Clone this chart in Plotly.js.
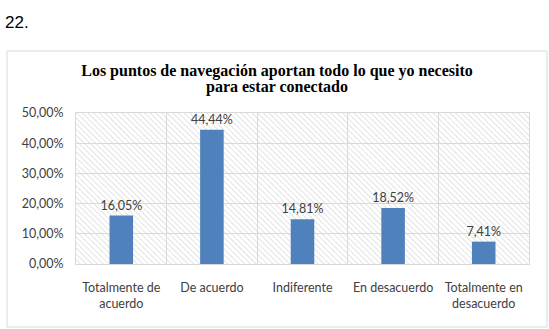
<!DOCTYPE html>
<html>
<head>
<meta charset="utf-8">
<script src="https://cdn.plot.ly/plotly-3.0.1.min.js"></script>
<style>
html,body{margin:0;padding:0;background:#fff;}
#chart{width:549px;height:329px;}
</style>
</head>
<body>
<div id="chart"></div>
<script>
const categories = ["Totalmente de<br>acuerdo", "De acuerdo", "Indiferente", "En desacuerdo", "Totalmente en<br>desacuerdo"];
const values = [0.1605, 0.4444, 0.1481, 0.1852, 0.0741];
const valueLabels = ["16,05%", "44,44%", "14,81%", "18,52%", "7,41%"];
const tickValues = [0, 0.1, 0.2, 0.3, 0.4, 0.5];
const tickLabels = ["0,00%", "10,00%", "20,00%", "30,00%", "40,00%", "50,00%"];
const titleLine1 = "Los puntos de navegación aportan todo lo que yo necesito";
const titleLine2 = "para estar conectado";

const W = 549, H = 329;
const L = 76, R = 20, T = 113, B = 65;
const pw = W - L - R, ph = H - T - B;
const px = x => (x - L) / pw;
const py = y => (H - B - y) / ph;

const hatch = 'data:image/svg+xml;utf8,' + encodeURIComponent(
  '<svg xmlns="http://www.w3.org/2000/svg" width="' + pw + '" height="' + ph + '">' +
  '<defs><pattern id="p" width="4" height="4" patternUnits="userSpaceOnUse" patternTransform="rotate(-45)">' +
  '<line x1="0" y1="0" x2="0" y2="4" stroke="#d4d4d4" stroke-width="1.3"/></pattern></defs>' +
  '<rect width="100%" height="100%" fill="url(#p)"/></svg>');

const sans = 'Lato, "Liberation Sans", sans-serif';
const serif = 'Liberation Serif, serif';

const trace = {
  type: 'bar',
  x: categories,
  y: values,
  text: valueLabels,
  textposition: 'outside',
  constraintext: 'none',
  cliponaxis: false,
  textfont: {family: sans, size: 12.5, color: '#404040'},
  marker: {color: '#4F81BD'},
  width: 0.26,
  hoverinfo: 'none'
};

const layout = {
  width: W, height: H,
  margin: {l: L, r: R, t: T, b: B, pad: 0},
  paper_bgcolor: '#ffffff',
  plot_bgcolor: 'rgba(0,0,0,0)',
  showlegend: false,
  title: {
    text: '<b>' + titleLine1 + '</b>',
    font: {family: serif, size: 16, color: '#000000'},
    x: 277 / W, xanchor: 'center',
    y: 1 - 70 / H, yanchor: 'middle', yref: 'container'
  },
  xaxis: {
    type: 'category',
    range: [-0.5, 4.5],
    tickson: 'boundaries',
    ticks: '',
    showgrid: true,
    gridcolor: '#d9d9d9',
    gridwidth: 1,
    showline: true,
    linecolor: '#d9d9d9',
    mirror: true,
    zeroline: false,
    tickfont: {family: sans, size: 12.5, color: '#404040'},
    ticklabelstandoff: 12
  },
  yaxis: {
    range: [0, 0.5],
    tickvals: tickValues,
    ticktext: tickLabels,
    showgrid: true,
    gridcolor: '#d9d9d9',
    gridwidth: 1,
    showline: true,
    linecolor: '#d9d9d9',
    mirror: true,
    zeroline: false,
    ticks: '',
    ticklabelstandoff: 9,
    tickfont: {family: sans, size: 12.5, color: '#404040'}
  },
  images: [{
    source: hatch,
    xref: 'paper', yref: 'paper',
    x: 0, y: 1, sizex: 1, sizey: 1,
    xanchor: 'left', yanchor: 'top',
    sizing: 'stretch', layer: 'below'
  }],
  shapes: [{
    type: 'rect', xref: 'paper', yref: 'paper',
    x0: px(7), x1: px(547), y0: py(327), y1: py(51),
    line: {color: '#d9d9d9', width: 1},
    fillcolor: 'rgba(0,0,0,0)',
    layer: 'below'
  }],
  annotations: [{
    text: '<b>' + titleLine2 + '</b>',
    xref: 'paper', yref: 'paper',
    x: px(277), y: py(87),
    xanchor: 'center', yanchor: 'middle',
    showarrow: false,
    font: {family: serif, size: 16, color: '#000000'}
  }, {
    text: '22.',
    xref: 'paper', yref: 'paper',
    x: px(3), y: py(22),
    xanchor: 'left', yanchor: 'middle',
    showarrow: false,
    font: {family: '"Liberation Sans", Arial, sans-serif', size: 17, color: '#000000'}
  }]
};

Plotly.newPlot('chart', [trace], layout, {displayModeBar: false, staticPlot: true});
</script>
</body>
</html>
